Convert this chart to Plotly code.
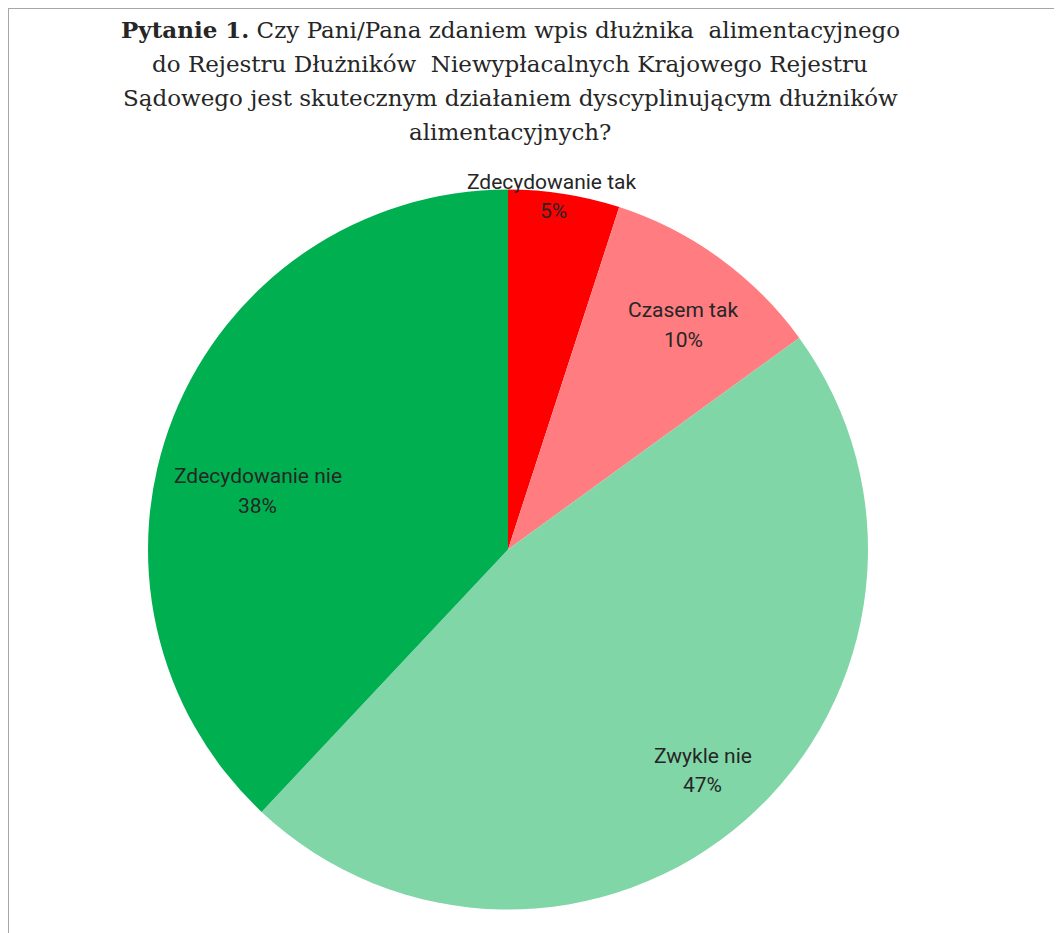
import plotly.graph_objects as go

# survey answers, clockwise from 12 o'clock
answers = ["Zdecydowanie tak", "Czasem tak", "Zwykle nie", "Zdecydowanie nie"]
shares = [5, 10, 47, 38]
colors = ["#FF0000", "#FF7C80", "#80D6A7", "#00B050"]

title_lines = [
    "<b>Pytanie 1.</b> Czy Pani/Pana zdaniem wpis dłużnika  alimentacyjnego",
    "do Rejestru Dłużników  Niewypłacalnych Krajowego Rejestru",
    "Sądowego jest skutecznym działaniem dyscyplinującym dłużników",
    "alimentacyjnych?",
]

W, H = 1062, 933
OFF = 8  # page body margin pushes the plot 8px right/down


def px_x(x):
    return (x - OFF) / W


def px_y(y):
    return 1 - (y - OFF) / H


# label anchor points in page pixels (name line, percent line)
label_px = [((552, 182), (553, 211)), ((683, 310), (683, 340)),
            ((703, 756), (703, 785)), ((258, 476), (258, 506))]

fig = go.Figure(go.Pie(
    labels=answers,
    values=shares,
    sort=False,
    direction="clockwise",
    rotation=0,
    marker=dict(colors=colors, line=dict(width=0)),
    textinfo="none",
    hoverinfo="label+percent",
    showlegend=False,
    domain=dict(x=[px_x(148), px_x(868)], y=[px_y(911), px_y(188)]),
))

annotations = []
title_y = [30, 64, 98, 132]
for line, ty in zip(title_lines, title_y):
    annotations.append(dict(
        text=line, x=px_x(510), y=px_y(ty), xref="paper", yref="paper",
        xanchor="center", yanchor="middle", showarrow=False,
        font=dict(family="DejaVu Serif", size=23, color="#262626"),
    ))

total = sum(shares)
for name, val, ((nx, ny), (px, py)) in zip(answers, shares, label_px):
    pct = f"{round(100 * val / total)}%"
    for txt, x, y in ((name, nx, ny), (pct, px, py)):
        annotations.append(dict(
            text=txt, x=px_x(x), y=px_y(y), xref="paper", yref="paper",
            xanchor="center", yanchor="middle", showarrow=False,
            font=dict(family="Roboto, sans-serif", size=21, color="#262626"),
        ))

fig.update_layout(
    width=W, height=H,
    margin=dict(l=0, r=0, t=0, b=0),
    paper_bgcolor="white",
    plot_bgcolor="white",
    annotations=annotations,
    shapes=[
        dict(type="line", xref="paper", yref="paper", x0=0, x1=1, y0=px_y(8), y1=px_y(8),
             line=dict(color="#A6A6A6", width=2)),
        dict(type="line", xref="paper", yref="paper", x0=0, x1=0, y0=0, y1=px_y(8),
             line=dict(color="#A6A6A6", width=2)),
    ],
)

fig.write_html("out.html")
